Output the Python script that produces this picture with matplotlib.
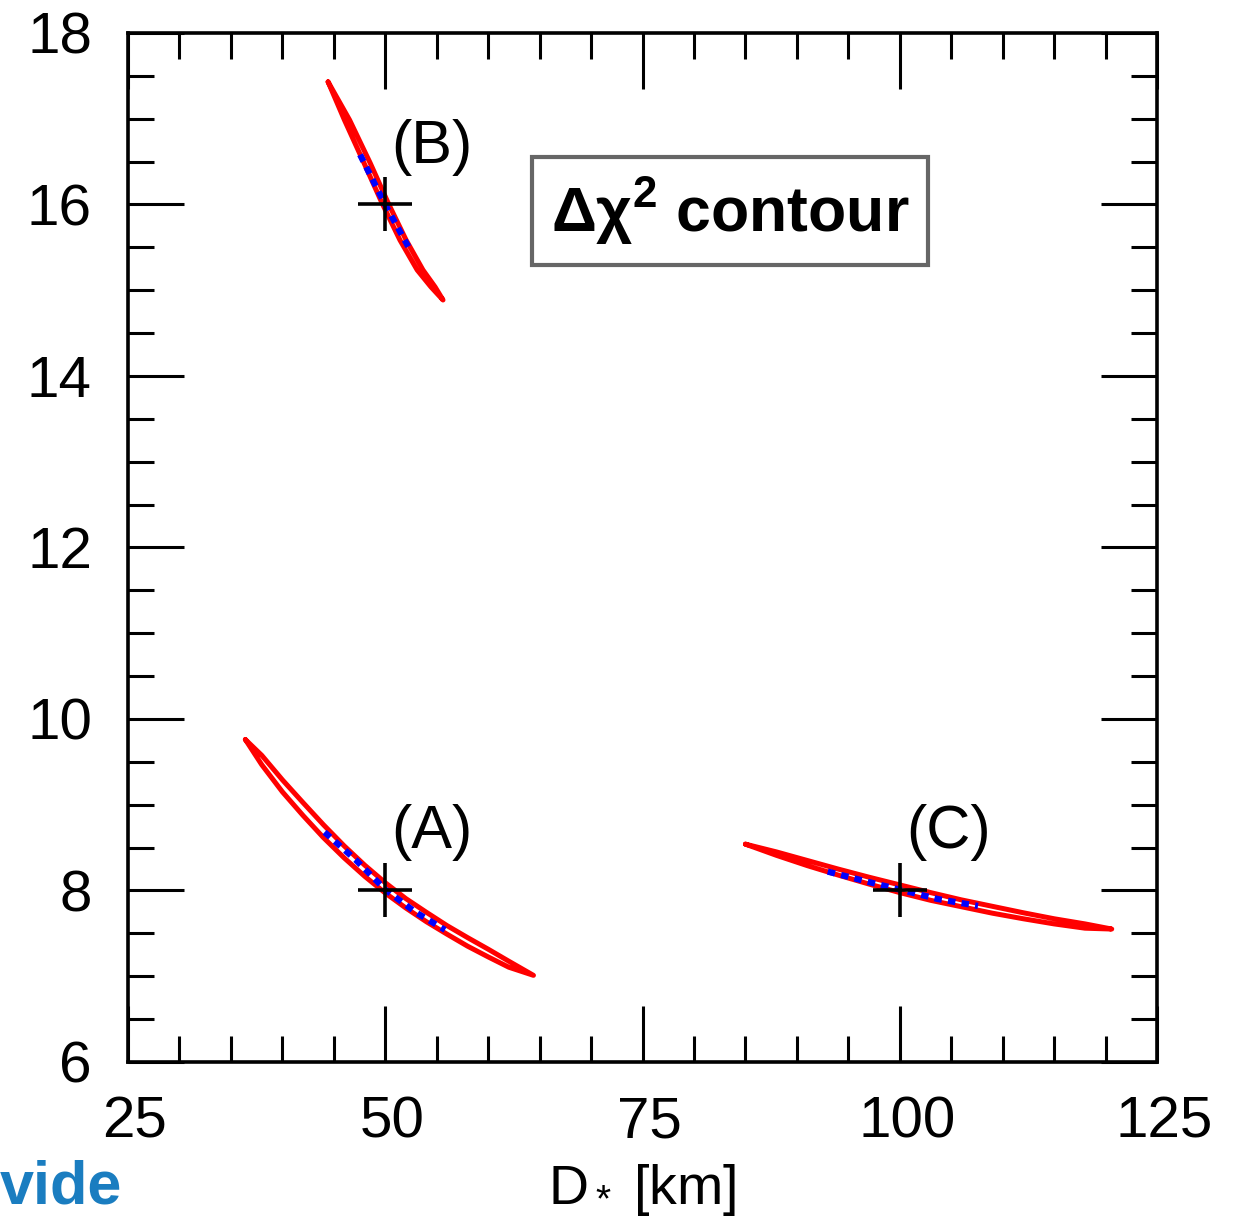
import matplotlib
matplotlib.use("Agg")
import numpy as np
import matplotlib.pyplot as plt
import matplotlib.transforms as mtransforms
from matplotlib.ticker import MultipleLocator

plt.rcParams['font.family'] = ['Liberation Sans', 'DejaVu Sans']
plt.rcParams['mathtext.fontset'] = 'custom'
plt.rcParams['mathtext.rm'] = 'Liberation Sans'
plt.rcParams['mathtext.it'] = 'Liberation Sans'
plt.rcParams['mathtext.bf'] = 'Liberation Sans:bold'

# contour (A): centre line and vertical half width of the red loop
a_x = [36.4, 38, 40, 42, 44, 46, 48, 50, 52, 54, 56, 58, 60, 62, 64.4]
a_y = [9.76, 9.52, 9.22, 8.95, 8.69, 8.45, 8.23, 8.03, 7.85, 7.69, 7.54, 7.40, 7.27, 7.14, 7.01]
a_w = [0, 0.055, 0.07, 0.075, 0.075, 0.07, 0.065, 0.06, 0.055, 0.055, 0.05, 0.05, 0.045, 0.035, 0]
a_in_x = [44.1, 47.1, 50.0, 52.9, 55.8]
a_in_y = [8.68, 8.36, 8.01, 7.75, 7.54]

# contour (B): centre line and horizontal half width
b_x = [44.44, 46.28, 48.23, 49.98, 51.72, 53.38, 54.64, 55.61]
b_y = [17.43, 16.985, 16.484, 16.017, 15.586, 15.236, 15.038, 14.886]
b_w = [0, 0.25, 0.3, 0.3, 0.3, 0.28, 0.2, 0]
b_in_x = [47.55, 49.98, 52.41]
b_in_y = [16.58, 16.0, 15.47]

# contour (C): centre line and vertical half width
c_x = [85, 88, 91, 94, 97, 100, 103, 106, 109, 112, 115, 118, 120.6]
c_y = [8.54, 8.43, 8.32, 8.215, 8.115, 8.02, 7.93, 7.85, 7.775, 7.705, 7.64, 7.585, 7.55]
c_w = [0, 0.02, 0.03, 0.035, 0.04, 0.045, 0.045, 0.04, 0.04, 0.035, 0.03, 0.025, 0]
c_in_x = [93.0, 97.6, 100.0, 103.7, 107.6]
c_in_y = [8.22, 8.08, 8.01, 7.90, 7.82]

# best-fit points
cross_x = [50, 50, 100]
cross_y = [16, 8, 8]
labels = ['(B)', '(A)', '(C)']
label_x = [54.5, 54.5, 104.7]
label_y = [16.66, 8.68, 8.68]


def loop_v(x, y, w):
    x, y, w = np.array(x), np.array(y), np.array(w)
    return np.r_[x, x[::-1]], np.r_[y + w, (y - w)[::-1]]


def loop_h(x, y, w):
    x, y, w = np.array(x), np.array(y), np.array(w)
    return np.r_[x + w, (x - w)[::-1]], np.r_[y, y[::-1]]


fig = plt.figure(figsize=(12.36, 12.17), dpi=100)
ax = fig.add_axes([0.1036, 0.1274, 0.8325, 0.8455])

red = dict(color='#ff0000', lw=3.6, solid_joinstyle='round', solid_capstyle='round')
blue = dict(color='#0000ff', lw=4.5, linestyle=(0, (1.2, 1.0)))

ax.plot(*loop_v(a_x, a_y, a_w), **red)
ax.plot(*loop_h(b_x, b_y, b_w), **red)
ax.plot(*loop_v(c_x, c_y, c_w), **red)

ax.plot(a_in_x, a_in_y, **blue)
ax.plot(b_in_x, b_in_y, **blue)
ax.plot(c_in_x, c_in_y, **blue)

ax.plot(cross_x, cross_y, '+', color='black', ms=39, mew=2.6, ls='none')

for t, x, y in zip(labels, label_x, label_y):
    ax.text(x, y, t, fontsize=44, ha='center', va='center')

ax.text(0.585, 0.827, r'$\mathbf{\Delta\chi^2}$ contour', transform=ax.transAxes,
        fontsize=45, fontweight='bold', ha='center', va='center',
        bbox=dict(boxstyle='square,pad=0.3', fc='white', ec='#666666', lw=3))

ax.set_xlim(25, 125)
ax.set_ylim(6, 18)
ax.xaxis.set_major_locator(MultipleLocator(25))
ax.xaxis.set_minor_locator(MultipleLocator(5))
ax.yaxis.set_major_locator(MultipleLocator(2))
ax.yaxis.set_minor_locator(MultipleLocator(0.5))
ax.tick_params(which='both', direction='in', top=True, right=True, width=2.2)
ax.tick_params(which='major', length=40, labelsize=42)
ax.tick_params(axis='x', which='major', pad=24)
ax.tick_params(axis='y', which='major', pad=26)
ax.tick_params(which='minor', length=19)
for s in ax.spines.values():
    s.set_linewidth(2.6)

# x tick labels sit a little right of their ticks in the original
shift = mtransforms.ScaledTranslation(7 / 100, 0, fig.dpi_scale_trans)
for lab in ax.get_xticklabels():
    lab.set_transform(lab.get_transform() + shift)

ax.set_xlabel(r'D$_*$ [km]', fontsize=40, labelpad=9)

fig.text(0.0, 0.0115, 'vide', fontsize=44, fontweight='bold', color='#1a7dc0',
         ha='left', va='baseline')

fig.savefig('out.png', dpi=100)
